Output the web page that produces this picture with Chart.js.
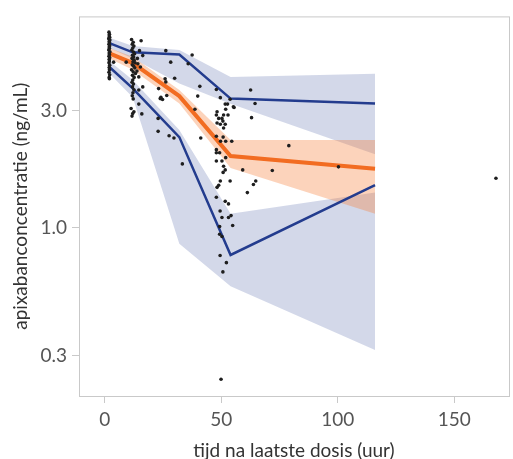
<!DOCTYPE html>
<html>
<head>
<meta charset="utf-8">
<script src="https://cdn.jsdelivr.net/npm/chart.js@4.4.1/dist/chart.umd.min.js"></script>
<style>
  body { margin: 0; background: #fff; }
  #wrap { width: 513px; height: 459px; }
</style>
</head>
<body>
<div id="wrap"><canvas id="pk-chart"></canvas></div>
<script>
// time nodes of the simulated percentile curves (hours)
const nodeHours = [2, 12, 32, 54, 116];

// 95th percentile: line + confidence band
const p95Line = [5.66, 5.19, 5.08, 3.36, 3.21];
const p95Hi = [5.95, 5.5, 5.3, 4.12, 4.24];
const p95Lo = [5.4, 4.9, 3.87, 3.2, 1.99];

// median: line + confidence band
const medLine = [5.14, 4.69, 3.44, 1.96, 1.74];
const medHi = [5.4, 4.98, 3.64, 2.28, 2.28];
const medLo = [4.9, 4.4, 3.21, 1.75, 1.14];

// 5th percentile: line + confidence band
const p5Line = [4.52, 3.7, 2.34, 0.774, 1.49];
const p5Hi = [4.78, 4.0, 2.5, 1.14, 1.39];
const p5Lo = [4.25, 3.4, 0.86, 0.577, 0.317];

// observed concentrations
const obsHours = [
  1.8, 2.0, 1.9, 2.1, 1.7, 2.2, 1.9, 2.0, 1.8, 2.1, 1.9, 2.0, 1.7, 2.2, 1.9,
  2.0, 1.8, 2.1, 1.9, 2.0, 1.8, 2.1, 1.9, 2.0, 1.8, 2.1, 1.9, 2.0, 3.8,
  11.5, 12.2, 11.8, 12.5, 12.0, 11.6, 12.3, 12.8, 11.9, 12.4, 11.7, 12.6, 12.1,
  13.0, 11.8, 12.4, 12.9, 11.5, 12.2, 13.2, 11.9, 12.6, 12.0, 11.7, 12.3, 11.9,
  12.5, 12.1, 11.8, 12.2, 11.3, 12.5, 11.7, 12.0,
  14.2, 15.3, 14.6, 14.9, 15.6, 16.3, 9.2, 16.3, 14.6, 14.6, 15.9, 14.0, 13.8,
  26.2, 28.3, 37.5, 35.8, 25.9, 26.2, 30.0, 40.8, 39.9, 23.1, 24.1, 24.8, 23.8,
  26.6, 38.7, 22.9, 22.9, 27.6, 29.7, 41.2, 33.3,
  47.9, 49.6, 53.8, 51.7, 52.7, 55.5, 51.9, 48.2, 47.9, 51.0, 52.9, 48.9, 50.3,
  50.7, 48.2, 49.6, 51.7, 51.0, 47.9, 50.8, 49.7, 51.9, 54.5, 47.9, 47.9, 49.3,
  47.9, 50.3, 51.9, 51.0, 51.7, 50.8, 49.6, 53.8, 48.2, 48.9, 47.9, 51.7, 53.1,
  49.5, 50.3, 53.1, 54.2, 54.9, 49.3, 49.3, 50.3, 49.5, 52.2, 50.7, 49.9,
  59.2, 62.6, 64.5, 55.2, 63.0, 79.0, 71.9, 64.8, 63.8, 61.2, 100.3, 167.9
];
const obsConc = [
  6.27, 6.15, 6.05, 5.98, 5.9, 5.82, 5.75, 5.68, 5.6, 5.52, 5.45, 5.38, 5.3, 5.22, 5.15,
  5.08, 5.0, 4.93, 4.86, 4.78, 4.7, 4.6, 4.5, 4.4, 4.3, 4.2, 4.1, 4.05, 4.73,
  5.85, 5.7, 5.6, 5.5, 5.4, 5.3, 5.2, 5.12, 5.05, 4.97, 4.9, 4.82, 4.75,
  4.7, 4.62, 4.55, 4.48, 4.4, 4.32, 4.25, 4.18, 4.1, 4.0, 3.92, 3.85, 3.75,
  3.65, 3.55, 3.45, 3.35, 3.06, 2.97, 2.85, 2.92,
  4.66, 4.52, 4.12, 5.27, 5.78, 5.03, 4.73, 3.75, 3.64, 3.19, 2.91, 4.9, 4.35,
  5.27, 4.73, 5.06, 4.66, 4.05, 3.93, 4.07, 3.77, 3.44, 3.69, 3.4, 3.33, 3.36,
  3.46, 3.04, 2.79, 2.47, 2.37, 2.32, 2.32, 1.82,
  3.66, 3.39, 3.34, 3.19, 3.19, 3.09, 3.04, 2.97, 2.88, 2.88, 2.88, 2.79, 2.79,
  2.72, 2.67, 2.64, 2.64, 2.55, 2.36, 2.34, 2.25, 2.25, 2.25, 2.08, 2.02, 2.02,
  1.87, 1.87, 1.93, 1.78, 1.72, 1.68, 1.55, 1.55, 1.46, 1.49, 1.33, 1.28, 1.25,
  1.17, 1.10, 1.10, 1.12, 1.02, 1.01, 0.94, 0.92, 0.77, 0.72, 0.66, 0.241,
  1.72, 3.64, 3.21, 3.11, 2.81, 2.16, 1.71, 1.55, 1.50, 1.39, 1.77, 1.59
];

const xTicks = [0, 50, 100, 150];
const yTicks = [0.3, 1.0, 3.0];

const NAVY = "#233c8e";
const ORANGE = "#f26c21";
const GREY_BAND = "rgba(35, 60, 145, 0.2)";
const ORANGE_BAND = "rgba(245, 130, 60, 0.35)";
const FRAME = "#c9c9c9";

function pts(xs, ys) {
  return xs.map((x, i) => ({ x: x, y: ys[i] }));
}

function band(hi, lo, color, order) {
  return [
    { data: pts(nodeHours, hi), showLine: true, pointRadius: 0, borderWidth: 0,
      backgroundColor: color, fill: "+1", order: order },
    { data: pts(nodeHours, lo), showLine: true, pointRadius: 0, borderWidth: 0,
      fill: false, order: order }
  ];
}

function curve(ys, color, width) {
  return { data: pts(nodeHours, ys), showLine: true, pointRadius: 0,
    borderColor: color, borderWidth: width, fill: false, order: 1 };
}

// light box around the plot area
const framePlugin = {
  id: "frame",
  beforeDatasetsDraw(chart) {
    const a = chart.chartArea;
    const ctx = chart.ctx;
    ctx.save();
    ctx.strokeStyle = FRAME;
    ctx.lineWidth = 1;
    ctx.strokeRect(a.left + 0.5, a.top + 0.5, a.right - a.left, a.bottom - a.top);
    ctx.restore();
  }
};

const datasets = [
  { data: pts(obsHours, obsConc), pointRadius: 1.8, pointBackgroundColor: "#1e1e1e",
    pointBorderWidth: 0, order: 0 },
  curve(p95Line, NAVY, 2.5),
  curve(p5Line, NAVY, 2.5),
  curve(medLine, ORANGE, 4),
  ...band(medHi, medLo, ORANGE_BAND, 2),
  ...band(p95Hi, p95Lo, GREY_BAND, 3),
  ...band(p5Hi, p5Lo, GREY_BAND, 3)
];

new Chart("pk-chart", {
  type: "scatter",
  data: { datasets: datasets },
  options: {
    responsive: true,
    maintainAspectRatio: false,
    animation: false,
    layout: { padding: { top: 12, right: 0, left: 0, bottom: 0 } },
    plugins: { legend: { display: false }, tooltip: { enabled: false } },
    scales: {
      x: {
        type: "linear",
        min: -11.06,
        max: 173.5,
        afterBuildTicks: (s) => { s.ticks = xTicks.map(v => ({ value: v })); },
        afterFit: (s) => { s.height = 63; },
        border: { display: false },
        grid: { drawOnChartArea: false, color: FRAME, tickLength: 7 },
        ticks: { color: "#555", padding: 5, font: { family: "Lato", size: 19 } },
        title: { display: true, text: "tijd na laatste dosis (uur)", color: "#333",
          font: { family: "Lato", size: 19, lineHeight: 1 }, padding: { top: 0, bottom: -1 } }
      },
      y: {
        type: "logarithmic",
        min: 0.2058,
        max: 7.27,
        afterBuildTicks: (s) => { s.ticks = yTicks.map(v => ({ value: v })); },
        afterFit: (s) => { s.width = 79; },
        border: { display: false },
        grid: { drawOnChartArea: false, color: FRAME, tickLength: 7 },
        ticks: { color: "#555", padding: 5, font: { family: "Lato", size: 19 },
          callback: (v) => Number(v).toFixed(1) },
        title: { display: true, text: "apixabanconcentratie (ng/mL)", color: "#333",
          font: { family: "Lato", size: 19, lineHeight: 1 }, padding: { top: 11, bottom: 0 } }
      }
    }
  },
  plugins: [framePlugin]
});
</script>
</body>
</html>
